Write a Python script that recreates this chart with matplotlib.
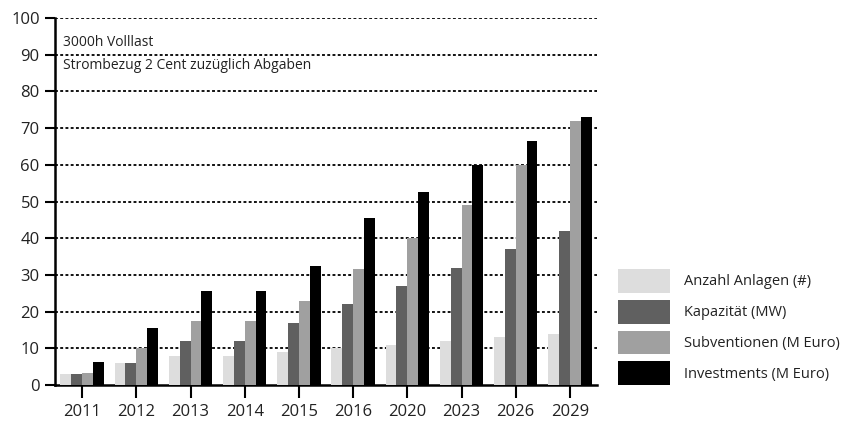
import matplotlib
matplotlib.use("Agg")
import matplotlib.pyplot as plt
import numpy as np
from matplotlib.patches import Patch

years = ["2011", "2012", "2013", "2014", "2015", "2016", "2020", "2023", "2026", "2029"]
anzahl = [3, 6, 8, 8, 9, 10, 11, 12, 13, 14]
kapazitaet = [3, 6, 12, 12, 17, 22, 27, 32, 37, 42]
subventionen = [3.2, 10, 17.5, 17.5, 23, 31.5, 40, 49, 60, 72]
investments = [6.2, 15.5, 25.5, 25.5, 32.5, 45.5, 52.5, 60, 66.5, 73]
series_names = ["Anzahl Anlagen (#)", "Kapazität (MW)", "Subventionen (M Euro)", "Investments (M Euro)"]
colors = ["#dddddd", "#606060", "#a0a0a0", "#000000"]
yticks = [0, 10, 20, 30, 40, 50, 60, 70, 80, 90, 100]

plt.rcParams['font.family'] = ['Open Sans', 'DejaVu Sans']

fig = plt.figure(figsize=(8.42, 4.30), dpi=100)
ax = fig.add_axes([55/842, 1-385/430, (597-55)/842, (385-18)/430])

x = np.arange(len(years))
w = 0.2
data = [anzahl, kapazitaet, subventionen, investments]
for i, (vals, c) in enumerate(zip(data, colors)):
    ax.bar(x + (i - 1.5) * w, vals, width=w, color=c, zorder=3)

ax.set_xlim(-0.5, len(years) - 0.5)
ax.set_ylim(0, 100)
ax.set_yticks(yticks)
ax.set_yticklabels([str(v) for v in yticks], fontsize=12)
ax.set_xticks(x)
ax.set_xticklabels(years, fontsize=12)
for yv in yticks[1:]:
    ax.axhline(yv, color="black", linestyle=(0, (1.6, 1.3)), linewidth=1.3, zorder=1)

for s in ["top", "right"]:
    ax.spines[s].set_visible(False)
ax.spines["left"].set_linewidth(1.8)
ax.spines["bottom"].set_linewidth(1.8)
ax.tick_params(axis="x", direction="out", length=9, width=1.5, pad=5, colors="black")
ax.tick_params(axis="y", direction="out", length=7, width=1.5, pad=4, colors="black")
for lab in ax.get_xticklabels() + ax.get_yticklabels():
    lab.set_color("#222222")

ax.text(0.015, 0.932, "3000h Volllast", transform=ax.transAxes, fontsize=10,
        va="center", ha="left", color="#222222")
ax.text(0.015, 0.870, "Strombezug 2 Cent zuzüglich Abgaben", transform=ax.transAxes,
        fontsize=10, va="center", ha="left", color="#222222")

handles = [Patch(facecolor=c, edgecolor="none") for c in colors]
fig.legend(handles, series_names, loc="center left", bbox_to_anchor=(618/842, 1-327/430),
           frameon=False, fontsize=10.5, handlelength=3.55, handleheight=2.15,
           labelspacing=0.48, handletextpad=1.0, borderpad=0, borderaxespad=0,
           labelcolor="#222222")

fig.savefig("out.png", dpi=100)
